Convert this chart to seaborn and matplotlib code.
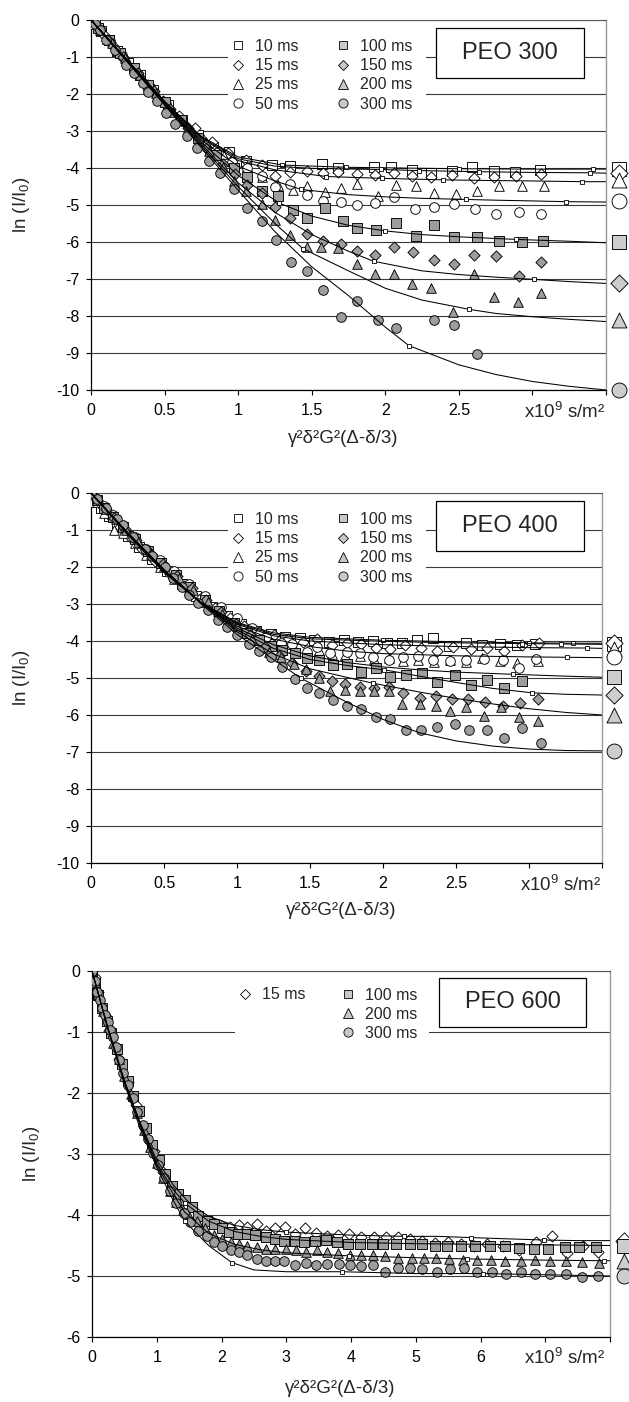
import numpy as np
import matplotlib
matplotlib.use("Agg")
import matplotlib.pyplot as plt
import seaborn as sns
from matplotlib.lines import Line2D
from matplotlib.patches import Rectangle

sns.set_theme(style="white")
plt.rcParams["font.family"] = ["Liberation Sans", "DejaVu Sans"]
plt.rcParams["mathtext.default"] = "regular"
plt.rcParams["axes.unicode_minus"] = False

# ---------------- PEO 300 : punti sperimentali (x, ln I/I0) ----------------
peo300_10ms = [(0, 0), (0.03, -0.1), (0.07, -0.3), (0.12, -0.55), (0.18, -0.85), (0.25, -1.15),
               (0.33, -1.5), (0.42, -1.9), (0.52, -2.3), (0.62, -2.7), (0.73, -3.1), (0.83, -3.42),
               (0.94, -3.56), (1.05, -3.8), (1.23, -3.92), (1.35, -3.95), (1.57, -3.89), (1.68, -4.0),
               (1.92, -3.97), (2.04, -3.97), (2.18, -4.05), (2.31, -4.13), (2.45, -4.08), (2.59, -3.97),
               (2.74, -4.08), (2.88, -4.1), (3.05, -4.05)]
peo300_15ms = [(0, 0), (0.04, -0.15), (0.09, -0.4), (0.15, -0.7), (0.22, -1.02), (0.3, -1.38),
               (0.39, -1.75), (0.49, -2.18), (0.6, -2.6), (0.71, -2.93), (0.82, -3.3), (0.93, -3.6),
               (1.05, -3.78), (1.16, -3.92), (1.25, -4.22), (1.35, -4.1), (1.47, -4.07), (1.58, -4.14),
               (1.68, -4.1), (1.81, -4.16), (1.93, -4.19), (2.06, -4.13), (2.18, -4.22), (2.31, -4.25),
               (2.45, -4.19), (2.6, -4.28), (2.74, -4.25), (2.89, -4.22), (3.06, -4.16)]
peo300_25ms = [(0, 0), (0.05, -0.2), (0.11, -0.5), (0.18, -0.82), (0.26, -1.2), (0.35, -1.6),
               (0.45, -2.05), (0.55, -2.45), (0.66, -2.88), (0.78, -3.3), (0.9, -3.62), (0.97, -3.8),
               (1.06, -3.95), (1.16, -4.25), (1.27, -4.45), (1.37, -4.59), (1.47, -4.5), (1.59, -4.64),
               (1.7, -4.55), (1.81, -4.43), (1.95, -4.76), (2.07, -4.46), (2.21, -4.48), (2.33, -4.68),
               (2.48, -4.71), (2.62, -4.62), (2.77, -4.48), (2.93, -4.48), (3.08, -4.48)]
peo300_50ms = [(0, 0), (0.06, -0.25), (0.13, -0.58), (0.21, -0.95), (0.3, -1.35), (0.4, -1.8),
               (0.51, -2.27), (0.62, -2.72), (0.74, -3.2), (0.86, -3.58), (0.96, -3.83), (1.06, -4.0),
               (1.16, -4.22), (1.25, -4.52), (1.35, -4.43), (1.47, -4.73), (1.58, -4.88), (1.7, -4.91),
               (1.81, -5.01), (1.93, -4.95), (2.06, -4.78), (2.2, -5.12), (2.33, -5.06), (2.47, -4.98),
               (2.61, -5.12), (2.75, -5.23), (2.91, -5.2), (3.06, -5.23)]
peo300_100ms = [(0, 0), (0.05, -0.22), (0.12, -0.55), (0.2, -0.9), (0.29, -1.3), (0.39, -1.75),
                (0.5, -2.22), (0.61, -2.7), (0.73, -3.2), (0.85, -3.65), (0.97, -4.01), (1.06, -4.23),
                (1.16, -4.61), (1.27, -4.77), (1.37, -5.14), (1.47, -5.36), (1.59, -5.09), (1.71, -5.42),
                (1.81, -5.61), (1.94, -5.68), (2.07, -5.48), (2.21, -5.84), (2.33, -5.54), (2.47, -5.87),
                (2.62, -5.87), (2.77, -5.97), (2.93, -5.99), (3.07, -5.97)]
peo300_150ms = [(0, 0), (0.06, -0.26), (0.13, -0.6), (0.22, -1.0), (0.32, -1.43), (0.43, -1.92),
                (0.54, -2.4), (0.66, -2.92), (0.78, -3.45), (0.9, -3.9), (0.98, -4.15), (1.06, -4.46),
                (1.16, -4.68), (1.25, -5.05), (1.35, -5.34), (1.47, -5.79), (1.58, -5.97), (1.7, -6.06),
                (1.81, -6.24), (1.93, -6.35), (2.06, -6.13), (2.19, -6.26), (2.33, -6.5), (2.47, -6.6),
                (2.6, -6.35), (2.75, -6.38), (2.91, -6.92), (3.06, -6.55)]
peo300_200ms = [(0, 0), (0.06, -0.27), (0.14, -0.63), (0.23, -1.03), (0.33, -1.48), (0.44, -1.98),
                (0.56, -2.5), (0.68, -3.02), (0.8, -3.55), (0.9, -3.98), (0.97, -4.34), (1.05, -4.61),
                (1.16, -4.97), (1.25, -5.41), (1.35, -5.81), (1.47, -6.13), (1.56, -6.13), (1.68, -6.17),
                (1.81, -6.6), (1.93, -6.86), (2.06, -6.87), (2.18, -7.14), (2.31, -7.23), (2.46, -7.88),
                (2.6, -6.87), (2.74, -7.48), (2.9, -7.63), (3.06, -7.39)]
peo300_300ms = [(0, 0), (0.03, -0.12), (0.06, -0.27), (0.1, -0.54), (0.16, -0.81), (0.24, -1.22),
                (0.29, -1.42), (0.35, -1.69), (0.39, -1.94), (0.45, -2.2), (0.51, -2.52), (0.57, -2.81),
                (0.65, -3.13), (0.72, -3.45), (0.8, -3.81), (0.88, -4.13), (0.97, -4.57), (1.06, -5.09),
                (1.16, -5.43), (1.26, -5.95), (1.36, -6.53), (1.47, -6.78), (1.58, -7.3), (1.7, -8.02),
                (1.81, -7.59), (1.95, -8.12), (2.07, -8.32), (2.33, -8.11), (2.47, -8.23), (2.62, -9.02)]

# PEO 300 : curve di fit
peo300_fit10 = [(0, 0), (0.25, -1.1), (0.5, -2.2), (0.75, -3.15), (1.0, -3.7), (1.3, -3.92), (1.73, -3.98),
                (2.1, -4.0), (2.5, -4.02), (3.0, -4.03), (3.41, -4.03), (3.5, -4.03)]
peo300_fit15 = [(0, 0), (0.25, -1.1), (0.5, -2.2), (0.75, -3.17), (1.0, -3.75), (1.25, -3.95), (1.5, -4.01),
                (1.97, -4.04), (2.23, -4.07), (2.64, -4.1), (3.0, -4.12), (3.39, -4.13), (3.5, -4.14)]
peo300_fit25 = [(0, 0), (0.25, -1.1), (0.5, -2.22), (0.75, -3.2), (1.0, -3.8), (1.25, -4.05), (1.6, -4.23),
                (1.98, -4.28), (2.39, -4.32), (2.75, -4.34), (3.0, -4.35), (3.34, -4.37), (3.5, -4.37)]
peo300_fit50 = [(0, 0), (0.25, -1.12), (0.5, -2.24), (0.75, -3.25), (1.0, -3.95), (1.25, -4.35), (1.43, -4.58),
                (1.75, -4.72), (2.0, -4.78), (2.25, -4.82), (2.55, -4.85), (2.75, -4.87), (3.0, -4.89),
                (3.23, -4.91), (3.5, -4.92)]
peo300_fit100 = [(0, 0), (0.25, -1.12), (0.5, -2.25), (0.75, -3.3), (1.0, -4.2), (1.28, -4.95), (1.5, -5.3),
                 (1.75, -5.55), (2.0, -5.7), (2.25, -5.8), (2.5, -5.86), (2.89, -5.93), (3.25, -5.98), (3.5, -6.02)]
peo300_fit150 = [(0, 0), (0.25, -1.13), (0.5, -2.27), (0.75, -3.35), (1.0, -4.4), (1.25, -5.2), (1.5, -5.8),
                 (1.75, -6.25), (1.92, -6.52), (2.25, -6.78), (2.5, -6.88), (2.75, -6.95), (3.01, -7.01),
                 (3.25, -7.07), (3.5, -7.12)]
peo300_fit200 = [(0, 0), (0.25, -1.14), (0.5, -2.28), (0.75, -3.4), (1.0, -4.5), (1.25, -5.5), (1.44, -6.18),
                 (1.75, -6.78), (2.0, -7.25), (2.25, -7.57), (2.57, -7.82), (2.75, -7.93), (3.0, -8.02),
                 (3.25, -8.09), (3.5, -8.15)]
peo300_fit300 = [(0, 0), (0.25, -1.15), (0.5, -2.3), (0.75, -3.45), (1.0, -4.6), (1.25, -5.72), (1.5, -6.67),
                 (1.75, -7.45), (2.0, -8.3), (2.16, -8.8), (2.5, -9.32), (2.75, -9.58), (3.0, -9.77),
                 (3.25, -9.9), (3.5, -10.0)]
peo300_end = [-4.02, -4.14, -4.33, -4.9, -6.0, -7.12, -8.12, -10.0]

# ---------------- PEO 400 ----------------
peo400_10ms = [(0, 0), (0.03, -0.25), (0.07, -0.4), (0.12, -0.62), (0.18, -0.9), (0.25, -1.15),
               (0.33, -1.45), (0.42, -1.78), (0.52, -2.12), (0.62, -2.45), (0.72, -2.78), (0.83, -3.08),
               (0.93, -3.32), (1.03, -3.55), (1.13, -3.72), (1.23, -3.8), (1.33, -3.9), (1.43, -3.92),
               (1.53, -3.98), (1.63, -4.02), (1.73, -3.96), (1.83, -4.03), (1.93, -4.0), (2.03, -4.06),
               (2.13, -4.06), (2.23, -3.97), (2.34, -3.93), (2.45, -4.14), (2.57, -4.05), (2.68, -4.1),
               (2.8, -4.08), (2.92, -4.12), (3.04, -4.08)]
peo400_15ms = [(0, 0), (0.04, -0.2), (0.08, -0.38), (0.13, -0.62), (0.2, -0.92), (0.27, -1.2),
               (0.35, -1.52), (0.44, -1.85), (0.54, -2.18), (0.64, -2.5), (0.75, -2.85), (0.85, -3.12),
               (0.95, -3.38), (1.05, -3.6), (1.15, -3.75), (1.25, -3.85), (1.35, -3.95), (1.45, -4.02),
               (1.55, -3.95), (1.65, -4.12), (1.75, -4.05), (1.85, -4.08), (1.95, -4.18), (2.05, -4.22),
               (2.15, -4.12), (2.26, -4.2), (2.37, -4.28), (2.48, -4.15), (2.6, -4.22), (2.71, -4.18),
               (2.83, -4.28), (2.95, -4.12), (3.07, -4.05)]
peo400_25ms = [(0, 0), (0.04, -0.25), (0.09, -0.55), (0.16, -1.0), (0.22, -1.08), (0.3, -1.35),
               (0.38, -1.68), (0.47, -2.0), (0.57, -2.32), (0.67, -2.62), (0.77, -2.95), (0.87, -3.2),
               (0.98, -3.45), (1.08, -3.68), (1.19, -3.95), (1.3, -4.1), (1.39, -4.18), (1.48, -4.3),
               (1.56, -4.25), (1.65, -4.35), (1.74, -4.38), (1.84, -4.4), (1.94, -4.48), (2.04, -4.45),
               (2.14, -4.53), (2.24, -4.52), (2.35, -4.57), (2.46, -4.52), (2.57, -4.56), (2.68, -4.45),
               (2.8, -4.55), (2.92, -4.6), (3.06, -4.53)]
peo400_50ms = [(0, 0), (0.04, -0.15), (0.09, -0.35), (0.15, -0.6), (0.22, -0.88), (0.3, -1.2),
               (0.38, -1.5), (0.47, -1.82), (0.57, -2.12), (0.67, -2.45), (0.78, -2.78), (0.89, -3.08),
               (1.0, -3.38), (1.1, -3.65), (1.2, -3.88), (1.3, -4.05), (1.38, -4.08), (1.48, -4.31),
               (1.55, -4.15), (1.64, -4.32), (1.75, -4.29), (1.84, -4.33), (1.93, -4.44), (2.04, -4.51),
               (2.14, -4.42), (2.24, -4.41), (2.34, -4.51), (2.46, -4.54), (2.57, -4.51), (2.69, -4.49),
               (2.82, -4.51), (2.93, -4.74), (3.05, -4.49)]
peo400_100ms = [(0, 0), (0.04, -0.18), (0.09, -0.4), (0.15, -0.65), (0.22, -0.93), (0.3, -1.25),
                (0.39, -1.57), (0.48, -1.9), (0.58, -2.22), (0.68, -2.55), (0.78, -2.88), (0.88, -3.18),
                (0.98, -3.5), (1.07, -3.79), (1.15, -3.97), (1.23, -4.14), (1.31, -4.24), (1.4, -4.33),
                (1.48, -4.47), (1.56, -4.51), (1.66, -4.65), (1.75, -4.62), (1.85, -4.85), (1.95, -4.74),
                (2.05, -4.96), (2.16, -4.92), (2.27, -4.86), (2.37, -5.1), (2.49, -4.92), (2.6, -5.19),
                (2.71, -5.05), (2.83, -5.26), (2.95, -5.07)]
peo400_150ms = [(0, 0), (0.04, -0.18), (0.1, -0.42), (0.16, -0.68), (0.23, -0.97), (0.31, -1.28),
                (0.4, -1.6), (0.49, -1.93), (0.59, -2.25), (0.69, -2.58), (0.79, -2.9), (0.89, -3.22),
                (0.99, -3.55), (1.09, -3.85), (1.19, -4.15), (1.29, -4.4), (1.38, -4.6), (1.47, -4.8),
                (1.56, -4.95), (1.65, -5.08), (1.74, -5.17), (1.84, -5.25), (1.94, -5.28), (2.04, -5.25),
                (2.14, -5.4), (2.25, -5.53), (2.36, -5.49), (2.47, -5.58), (2.58, -5.57), (2.7, -5.64),
                (2.82, -5.76), (2.94, -5.67), (3.06, -5.57)]
peo400_200ms = [(0, 0), (0.04, -0.18), (0.1, -0.43), (0.17, -0.7), (0.24, -1.0), (0.32, -1.32),
                (0.41, -1.65), (0.5, -1.98), (0.6, -2.3), (0.7, -2.62), (0.8, -2.95), (0.9, -3.28),
                (1.0, -3.6), (1.1, -3.95), (1.22, -4.29), (1.3, -4.42), (1.39, -4.63), (1.47, -4.77),
                (1.56, -5.0), (1.64, -5.34), (1.74, -5.32), (1.84, -5.35), (1.94, -5.34), (2.04, -5.35),
                (2.13, -5.71), (2.25, -5.71), (2.36, -5.76), (2.46, -5.88), (2.57, -5.78), (2.69, -6.02),
                (2.81, -5.79), (2.93, -6.05), (3.06, -6.15)]
peo400_300ms = [(0, 0), (0.04, -0.17), (0.1, -0.41), (0.18, -0.69), (0.22, -0.86), (0.29, -1.2),
                (0.37, -1.5), (0.42, -1.7), (0.51, -2.0), (0.56, -2.31), (0.62, -2.53), (0.67, -2.76),
                (0.73, -2.96), (0.8, -3.16), (0.87, -3.43), (0.93, -3.61), (1.0, -3.84), (1.08, -4.08),
                (1.15, -4.26), (1.23, -4.44), (1.31, -4.69), (1.4, -5.04), (1.48, -5.28), (1.56, -5.41),
                (1.66, -5.59), (1.75, -5.76), (1.85, -5.84), (1.95, -6.06), (2.05, -6.11), (2.16, -6.41),
                (2.26, -6.41), (2.37, -6.32), (2.49, -6.24), (2.59, -6.41), (2.71, -6.41), (2.83, -6.63),
                (2.95, -6.36), (3.08, -6.75)]

peo400_fit10 = [(0, 0), (0.25, -1.12), (0.5, -2.15), (0.75, -2.95), (1.0, -3.5), (1.25, -3.78), (1.5, -3.9),
                (2.0, -3.98), (2.5, -4.02), (3.0, -4.05), (3.3, -4.06), (3.5, -4.06)]
peo400_fit15 = [(0, 0), (0.25, -1.1), (0.5, -2.13), (0.75, -2.95), (1.0, -3.52), (1.25, -3.82), (1.5, -3.94),
                (2.0, -4.01), (2.5, -4.05), (2.95, -4.07), (3.22, -4.08), (3.5, -4.09)]
peo400_fit25 = [(0, 0), (0.25, -1.1), (0.5, -2.12), (0.75, -2.96), (1.0, -3.55), (1.25, -3.86), (1.5, -4.0),
                (2.0, -4.1), (2.5, -4.15), (3.0, -4.18), (3.4, -4.19), (3.5, -4.2)]
peo400_fit50 = [(0, 0), (0.25, -1.08), (0.5, -2.1), (0.75, -2.96), (1.0, -3.6), (1.25, -3.95), (1.5, -4.15),
                (1.75, -4.27), (2.0, -4.34), (2.5, -4.4), (3.0, -4.43), (3.26, -4.44), (3.5, -4.45)]
peo400_fit100 = [(0, 0), (0.25, -1.07), (0.5, -2.08), (0.75, -2.95), (1.0, -3.65), (1.25, -4.1), (1.5, -4.4),
                 (1.75, -4.58), (2.0, -4.7), (2.25, -4.78), (2.5, -4.84), (2.89, -4.9), (3.25, -4.95), (3.5, -4.98)]
peo400_fit150 = [(0, 0), (0.25, -1.07), (0.5, -2.07), (0.75, -2.95), (1.0, -3.7), (1.25, -4.2), (1.5, -4.5),
                 (1.75, -4.66), (2.01, -4.78), (2.25, -4.95), (2.5, -5.12), (2.75, -5.28), (3.02, -5.4),
                 (3.25, -5.44), (3.5, -5.46)]
peo400_fit200 = [(0, 0), (0.25, -1.07), (0.5, -2.07), (0.75, -2.96), (1.0, -3.75), (1.25, -4.35), (1.5, -4.75),
                 (1.75, -4.98), (1.93, -5.14), (2.25, -5.38), (2.5, -5.55), (2.75, -5.7), (3.0, -5.83),
                 (3.25, -5.93), (3.5, -6.0)]
peo400_fit300 = [(0, 0), (0.25, -1.07), (0.5, -2.07), (0.75, -2.98), (1.0, -3.82), (1.25, -4.5), (1.44, -5.01),
                 (1.75, -5.65), (2.0, -6.12), (2.25, -6.48), (2.5, -6.7), (2.75, -6.84), (3.0, -6.92),
                 (3.25, -6.96), (3.5, -6.97)]
peo400_end = [-4.08, -4.05, -4.22, -4.44, -4.98, -5.46, -6.0, -6.97]

# ---------------- PEO 600 ----------------
peo600_15ms = [(0, 0), (0.05, -0.1), (0.1, -0.35), (0.2, -0.72), (0.3, -1.0), (0.42, -1.45), (0.55, -1.82),
               (0.68, -2.2), (0.82, -2.55), (0.96, -2.95), (1.1, -3.3), (1.25, -3.6), (1.4, -3.85),
               (1.55, -4.0), (1.7, -4.08), (1.85, -4.12), (2.0, -4.18), (2.13, -4.2), (2.27, -4.17),
               (2.4, -4.2), (2.55, -4.14), (2.69, -4.26), (2.83, -4.21), (2.98, -4.19), (3.13, -4.31),
               (3.29, -4.22), (3.46, -4.29), (3.63, -4.34), (3.8, -4.33), (3.97, -4.31), (4.16, -4.36),
               (4.36, -4.36), (4.54, -4.36), (4.72, -4.36), (4.91, -4.4), (5.1, -4.42), (5.3, -4.46),
               (5.5, -4.45), (5.7, -4.48), (5.9, -4.5), (6.1, -4.48), (6.35, -4.5), (6.6, -4.58),
               (6.85, -4.45), (7.1, -4.35), (7.33, -4.63), (7.58, -4.5), (7.82, -4.6)]
peo600_100ms = [(0, 0), (0.05, -0.2), (0.1, -0.4), (0.16, -0.6), (0.23, -0.82), (0.3, -1.02), (0.38, -1.28),
                (0.46, -1.52), (0.55, -1.8), (0.64, -2.05), (0.73, -2.3), (0.83, -2.58), (0.93, -2.85),
                (1.03, -3.1), (1.13, -3.33), (1.23, -3.53), (1.33, -3.66), (1.43, -3.76), (1.54, -3.87),
                (1.64, -4.01), (1.77, -4.1), (1.88, -4.15), (2.0, -4.22), (2.12, -4.28), (2.26, -4.31),
                (2.39, -4.31), (2.52, -4.32), (2.68, -4.36), (2.82, -4.4), (2.97, -4.42), (3.13, -4.42),
                (3.28, -4.44), (3.45, -4.43), (3.62, -4.41), (3.78, -4.45), (3.96, -4.47), (4.14, -4.47),
                (4.33, -4.47), (4.5, -4.47), (4.7, -4.47), (4.91, -4.48), (5.1, -4.48), (5.29, -4.5),
                (5.49, -4.5), (5.7, -4.5), (5.92, -4.5), (6.14, -4.51), (6.38, -4.5), (6.59, -4.54),
                (6.83, -4.56), (7.04, -4.56), (7.3, -4.52), (7.52, -4.52), (7.78, -4.52)]
peo600_200ms = [(0, 0), (0.05, -0.18), (0.1, -0.38), (0.17, -0.65), (0.25, -0.92), (0.33, -1.18),
                (0.41, -1.45), (0.5, -1.72), (0.6, -2.02), (0.7, -2.32), (0.8, -2.6), (0.9, -2.88),
                (1.0, -3.15), (1.1, -3.4), (1.2, -3.6), (1.3, -3.78), (1.4, -3.92), (1.5, -4.02),
                (1.62, -4.1), (1.75, -4.22), (1.88, -4.33), (2.0, -4.4), (2.14, -4.44), (2.27, -4.48),
                (2.4, -4.5), (2.55, -4.52), (2.69, -4.55), (2.83, -4.55), (3.0, -4.56), (3.15, -4.58),
                (3.31, -4.6), (3.47, -4.58), (3.63, -4.6), (3.8, -4.62), (3.98, -4.65), (4.16, -4.66),
                (4.34, -4.66), (4.53, -4.68), (4.72, -4.7), (4.94, -4.71), (5.12, -4.7), (5.32, -4.7),
                (5.52, -4.72), (5.73, -4.73), (5.94, -4.74), (6.16, -4.74), (6.38, -4.75), (6.62, -4.76),
                (6.84, -4.74), (7.08, -4.76), (7.32, -4.75), (7.56, -4.77), (7.83, -4.78)]
peo600_300ms = [(0, 0), (0.04, -0.17), (0.08, -0.34), (0.12, -0.48), (0.16, -0.6), (0.2, -0.72),
                (0.24, -0.84), (0.28, -0.96), (0.33, -1.09), (0.37, -1.25), (0.42, -1.46), (0.48, -1.67),
                (0.56, -1.87), (0.63, -2.08), (0.7, -2.31), (0.78, -2.52), (0.87, -2.76), (0.94, -2.98),
                (1.02, -3.18), (1.11, -3.4), (1.2, -3.6), (1.3, -3.8), (1.42, -3.97), (1.52, -4.11),
                (1.64, -4.26), (1.77, -4.35), (1.88, -4.45), (2.0, -4.5), (2.14, -4.57), (2.27, -4.61),
                (2.4, -4.66), (2.55, -4.72), (2.69, -4.75), (2.83, -4.76), (2.97, -4.76), (3.14, -4.82),
                (3.31, -4.79), (3.46, -4.82), (3.63, -4.8), (3.81, -4.8), (3.98, -4.82), (4.16, -4.84),
                (4.34, -4.82), (4.53, -4.93), (4.73, -4.87), (4.91, -4.87), (5.1, -4.89), (5.33, -4.93),
                (5.53, -4.89), (5.74, -4.87), (5.95, -4.94), (6.17, -4.93), (6.39, -4.96), (6.62, -4.93),
                (6.84, -4.96), (7.08, -4.96), (7.32, -4.96), (7.56, -5.02), (7.81, -5.0)]

peo600_fit15 = [(0, 0), (0.25, -0.95), (0.5, -1.8), (0.75, -2.5), (1.0, -3.1), (1.25, -3.5), (1.5, -3.8),
                (1.8, -4.02), (2.2, -4.17), (2.6, -4.24), (3.0, -4.28), (4.0, -4.33), (4.82, -4.35),
                (5.33, -4.35), (5.85, -4.37), (6.39, -4.39), (6.98, -4.41), (7.5, -4.42), (8.0, -4.42)]
peo600_fit100 = [(0, 0), (0.25, -0.95), (0.5, -1.8), (0.75, -2.52), (1.0, -3.15), (1.25, -3.58), (1.43, -3.8),
                 (1.8, -4.1), (2.2, -4.27), (2.6, -4.35), (3.0, -4.4), (4.0, -4.45), (5.0, -4.47), (6.0, -4.48),
                 (7.0, -4.49), (8.0, -4.5)]
peo600_fit200 = [(0, 0), (0.25, -0.96), (0.5, -1.82), (0.75, -2.55), (1.0, -3.18), (1.25, -3.65), (1.43, -3.95),
                 (1.8, -4.3), (2.2, -4.48), (2.6, -4.57), (3.0, -4.62), (3.97, -4.67), (5.0, -4.7), (5.79, -4.72),
                 (7.0, -4.74), (7.9, -4.75), (8.0, -4.75)]
peo600_fit300 = [(0, 0), (0.25, -0.97), (0.5, -1.85), (0.75, -2.6), (1.0, -3.22), (1.25, -3.75), (1.43, -4.1),
                 (1.8, -4.5), (2.16, -4.78), (2.5, -4.9), (3.0, -4.93), (3.86, -4.93), (5.0, -4.96), (6.04, -4.96),
                 (7.0, -4.98), (8.0, -5.0)]
peo600_end = [-4.42, -4.5, -4.75, -5.0]

# ---------------- stile ----------------
GRAY = "#9d9d9d"
END_GRAY = "#cdcdcd"
LEG_GRAY = "#c8c8c8"
WHITE_SET = ("10 ms", "15 ms", "25 ms", "50 ms")
MARK = {"10 ms": "s", "15 ms": "D", "25 ms": "^", "50 ms": "o",
        "100 ms": "s", "150 ms": "D", "200 ms": "^", "300 ms": "o"}
SIZE = {"s": 44, "D": 32, "^": 48, "o": 48}
LEG_MS = {"s": 6.0, "D": 5.4, "^": 6.6, "o": 6.6}
FS_TICK = 11.5
FS_LAB = 13.5
FS_LEG = 11.5


def fill_of(lab, gray):
    return "white" if lab in WHITE_SET else gray


def draw_panel(ax, labels, points, fits, marks, ends, end_x, xmax, ymin, xstep, nlab, unit_x):
    for lab, pts in zip(labels, points):
        xy = np.array(pts)
        m = MARK[lab]
        sns.scatterplot(x=xy[:, 0], y=xy[:, 1], marker=m, s=SIZE[m], color=fill_of(lab, GRAY),
                        edgecolor="black", linewidth=0.65, zorder=3, legend=False, ax=ax)
    for pts, mk in zip(fits, marks):
        xy = np.array(pts)
        sns.lineplot(x=xy[:, 0], y=xy[:, 1], sort=False, estimator=None, color="black", lw=0.75,
                     marker="s", markevery=mk, ms=3.3, mfc="white", mec="black", mew=0.6,
                     zorder=4, ax=ax)
    for lab, yv in zip(labels, ends):
        m = MARK[lab]
        sns.scatterplot(x=[end_x], y=[yv], marker=m, s=SIZE[m] * 2.4, color=fill_of(lab, END_GRAY),
                        edgecolor="black", linewidth=0.65, clip_on=False, zorder=5, legend=False, ax=ax)

    ax.set_xlim(0, xmax)
    ax.set_ylim(ymin, 0)
    xt = np.arange(0, xmax + 1e-9, xstep)
    ax.set_xticks(xt)
    ax.set_xticklabels([f"{t:g}" if i < nlab else "" for i, t in enumerate(xt)])
    yt = list(range(ymin, 1))
    ax.set_yticks(yt)
    ax.set_yticklabels([str(v) for v in yt])
    ax.tick_params(axis="both", direction="out", length=3.5, width=0.8, colors="black",
                   labelsize=FS_TICK, pad=5, bottom=True, left=True)
    ax.tick_params(axis="x", pad=6)
    ax.set_axisbelow(True)
    ax.grid(axis="y", color="#3a3a3a", lw=0.8)
    ax.grid(axis="x", visible=False)
    for side in ("left", "bottom"):
        ax.spines[side].set_color("black")
        ax.spines[side].set_linewidth(0.9)
    ax.spines["right"].set_color("#9a9a9a")
    ax.spines["right"].set_linewidth(1.0)
    ax.spines["top"].set_color("#555555")
    ax.spines["top"].set_linewidth(0.8)

    ax.text(unit_x, -0.058, "x10$^9$ s/m²", transform=ax.get_xaxis_transform(),
            ha="center", va="center", fontsize=13.5)
    ax.set_ylabel("ln (I/I$_0$)", fontsize=FS_LAB)
    ax.set_xlabel("γ²δ²G²(Δ-δ/3)", fontsize=FS_LAB)


def make_legend(ax, labels, anchor, spacing, ncol):
    handles = [Line2D([], [], ls="none", marker=MARK[l], ms=LEG_MS[MARK[l]],
                      mfc=fill_of(l, LEG_GRAY), mec="black", mew=0.6) for l in labels]
    leg = ax.legend(handles, labels, ncol=ncol, loc="upper left", bbox_to_anchor=anchor,
                    frameon=False, fontsize=FS_LEG, handlelength=1.0, handletextpad=0.56,
                    columnspacing=2.27, labelspacing=spacing, borderaxespad=0, borderpad=0)
    leg.set_zorder(6)
    return leg


def peo_box(ax, x0, y0, w, h, title):
    ax.add_patch(Rectangle((x0, y0), w, h, transform=ax.transAxes, facecolor="white",
                           edgecolor="black", lw=0.9, zorder=2.6))
    ax.text(x0 + w / 2, y0 + h / 2, title, transform=ax.transAxes, ha="center", va="center",
            fontsize=17, zorder=6)


def white_patch(ax, x0, y0, w, h):
    ax.add_patch(Rectangle((x0, y0), w, h, transform=ax.transAxes, facecolor="white",
                           edgecolor="none", zorder=2.5))


all_labels = ["10 ms", "15 ms", "25 ms", "50 ms", "100 ms", "150 ms", "200 ms", "300 ms"]

fig = plt.figure(figsize=(6.29, 14.02), dpi=100)
ax1 = fig.add_axes([91 / 629, 1 - 390 / 1402, 515 / 629, 370 / 1402])
ax2 = fig.add_axes([91 / 629, 1 - 863 / 1402, 511 / 629, 370 / 1402])
ax3 = fig.add_axes([92 / 629, 1 - 1337 / 1402, 518 / 629, 366 / 1402])

# PEO 300
draw_panel(ax1, all_labels,
           [peo300_10ms, peo300_15ms, peo300_25ms, peo300_50ms,
            peo300_100ms, peo300_150ms, peo300_200ms, peo300_300ms],
           [peo300_fit10, peo300_fit15, peo300_fit25, peo300_fit50,
            peo300_fit100, peo300_fit150, peo300_fit200, peo300_fit300],
           [[5, 6, 8, 10], [7, 8, 9, 11], [6, 7, 8, 11], [6, 10, 13],
            [5, 8, 11], [8, 12], [6, 10], [9]],
           peo300_end, 3.585, 3.5, -10, 0.5, 6, 3.22)
white_patch(ax1, 0.266, 0.735, 0.384, 0.235)
make_legend(ax1, all_labels, (0.270, 0.949), 0.27, 2)
peo_box(ax1, 0.670, 0.843, 0.287, 0.135, "PEO 300")
ax1.yaxis.set_label_coords(-0.115, 0.5)
ax1.xaxis.set_label_coords(0.49, -0.108)

# PEO 400
draw_panel(ax2, all_labels,
           [peo400_10ms, peo400_15ms, peo400_25ms, peo400_50ms,
            peo400_100ms, peo400_150ms, peo400_200ms, peo400_300ms],
           [peo400_fit10, peo400_fit15, peo400_fit25, peo400_fit50,
            peo400_fit100, peo400_fit150, peo400_fit200, peo400_fit300],
           [[7, 9, 10], [9, 10], [10], [11], [11], [8, 12], [8], [6]],
           peo400_end, 3.585, 3.5, -10, 0.5, 6, 3.22)
white_patch(ax2, 0.268, 0.735, 0.388, 0.235)
make_legend(ax2, all_labels, (0.272, 0.949), 0.27, 2)
peo_box(ax2, 0.675, 0.843, 0.290, 0.135, "PEO 400")
ax2.yaxis.set_label_coords(-0.115, 0.5)
ax2.xaxis.set_label_coords(0.49, -0.106)

# PEO 600
lab600 = ["15 ms", "100 ms", "200 ms", "300 ms"]
draw_panel(ax3, lab600,
           [peo600_15ms, peo600_100ms, peo600_200ms, peo600_300ms],
           [peo600_fit15, peo600_fit100, peo600_fit200, peo600_fit300],
           [[10, 12, 14, 16], [6], [11, 13, 15], [6, 8, 11, 13]],
           peo600_end, 8.22, 8, -6, 1, 7, 7.3)
white_patch(ax3, 0.276, 0.79, 0.375, 0.20)
leg_a = make_legend(ax3, ["15 ms"], (0.280, 0.956), 0.24, 1)
ax3.add_artist(leg_a)
make_legend(ax3, ["100 ms", "200 ms", "300 ms"], (0.479, 0.954), 0.24, 1)
peo_box(ax3, 0.670, 0.847, 0.284, 0.134, "PEO 600")
ax3.yaxis.set_label_coords(-0.097, 0.5)
ax3.xaxis.set_label_coords(0.48, -0.118)

fig.savefig("out.png", dpi=100)
